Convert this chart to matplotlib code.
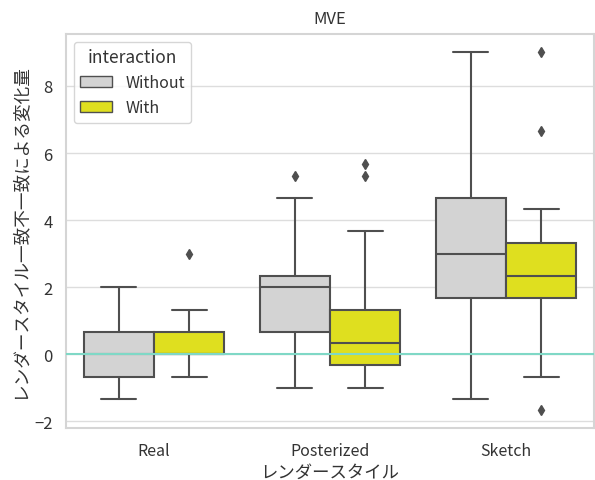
import matplotlib
matplotlib.use("Agg")
import matplotlib.pyplot as plt
import matplotlib.patches as mpatches
import seaborn as sns

sns.set_theme(style="whitegrid")
plt.rcParams['font.family'] = ['Noto Sans CJK JP', 'DejaVu Sans']
plt.rcParams['axes.unicode_minus'] = True
plt.rcParams['text.color'] = '#333333'
plt.rcParams['axes.labelcolor'] = '#333333'
plt.rcParams['xtick.color'] = '#333333'
plt.rcParams['ytick.color'] = '#333333'

# データ（図から読み取った箱ひげ図の統計量）
styles = ["Real", "Posterized", "Sketch"]
hues = ["Without", "With"]
hue_colors = ["#d3d3d3", "#dfdf1f"]

whislo = {"Without": [-1.33, -1.0, -1.33], "With": [-0.67, -1.0, -0.67]}
q1 = {"Without": [-0.67, 0.67, 1.67], "With": [0.0, -0.33, 1.67]}
med = {"Without": [0.0, 2.0, 3.0], "With": [0.0, 0.33, 2.33]}
q3 = {"Without": [0.67, 2.33, 4.67], "With": [0.67, 1.33, 3.33]}
whishi = {"Without": [2.0, 4.67, 9.0], "With": [1.33, 3.67, 4.33]}
fliers = {"Without": [[], [5.33], []],
          "With": [[3.0], [5.33, 5.67], [6.67, 9.0, -1.67]]}

line_col = "#4f4f4f"

fig = plt.figure(figsize=(5.95, 4.81), dpi=100)
ax = fig.add_axes([66 / 595, 1 - 429 / 481, (594 - 66) / 595, (429 - 35) / 481])

offsets = [-0.2, 0.2]
for hi, h in enumerate(hues):
    stats = []
    for i in range(len(styles)):
        stats.append(dict(whislo=whislo[h][i], q1=q1[h][i], med=med[h][i],
                          q3=q3[h][i], whishi=whishi[h][i], fliers=fliers[h][i]))
    pos = [i + offsets[hi] for i in range(len(styles))]
    ax.bxp(stats, positions=pos, widths=0.4, patch_artist=True, showfliers=True,
           boxprops=dict(facecolor=hue_colors[hi], edgecolor=line_col, linewidth=1.5),
           medianprops=dict(color=line_col, linewidth=1.5),
           whiskerprops=dict(color=line_col, linewidth=1.5),
           capprops=dict(color=line_col, linewidth=1.5),
           flierprops=dict(marker='d', markerfacecolor=line_col, markeredgecolor=line_col,
                           markersize=5.5),
           capwidths=0.2)

ax.axhline(0, color="#7fd8c6", linewidth=1.5, zorder=5)

ax.set_xlim(-0.5, 2.5)
ax.set_ylim(-2.2, 9.55)
ax.set_xticks(range(len(styles)))
ax.set_xticklabels(styles, fontsize=11.5)
ax.set_yticks([-2, 0, 2, 4, 6, 8])
ax.tick_params(axis='y', labelsize=12)
ax.tick_params(axis='x', pad=4)
ax.xaxis.grid(False)
ax.yaxis.grid(True, color="#dddddd")
for sp in ax.spines.values():
    sp.set_color("#d5d5d5")
    sp.set_linewidth(1.5)

ax.set_title("MVE", fontsize=12, pad=8)
ax.set_xlabel("レンダースタイル", fontsize=12.5, labelpad=3)
ax.set_ylabel("レンダースタイル一致不一致による変化量", fontsize=12.7)

handles = [mpatches.Patch(facecolor=c, edgecolor=line_col, label=h)
           for h, c in zip(hues, hue_colors)]
ax.legend(handles=handles, title="interaction", loc="upper left", fontsize=11.5,
          title_fontsize=12.5)

fig.savefig("out.png", dpi=100)
